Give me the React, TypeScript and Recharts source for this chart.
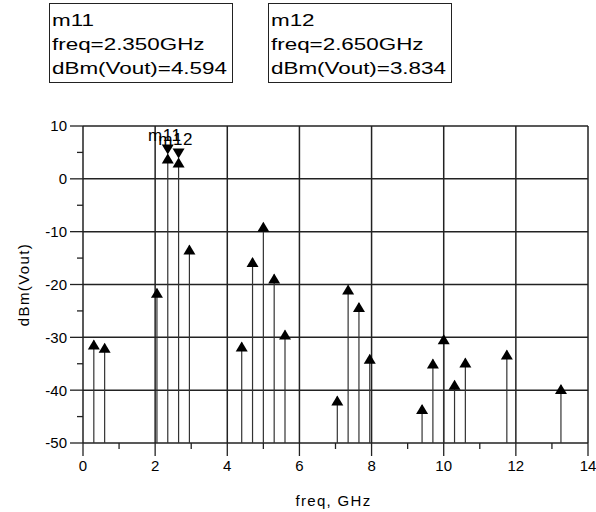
import * as React from 'react';
import { ComposedChart, XAxis, YAxis, Scatter, ReferenceLine } from 'recharts';

// spectrum lines (tip of each triangle)
const freqGHz = [0.3, 0.6, 2.05, 2.35, 2.65, 2.95, 4.4, 4.7, 5.0, 5.3, 5.6, 7.05, 7.35, 7.65, 7.95, 9.4, 9.7, 10.0, 10.3, 10.6, 11.75, 13.25];
const voutDbm = [-30.6, -31.2, -20.8, 4.594, 3.834, -12.6, -31.0, -15.0, -8.3, -18.1, -28.7, -41.2, -20.2, -23.5, -33.3, -42.8, -34.2, -29.6, -38.2, -34.0, -32.5, -39.0];

// markers
const markerNames = ['m11', 'm12'];
const markerFreq = [2.35, 2.65];
const markerDbm = [4.594, 3.834];

const xTicks = [0, 1, 2, 3, 4, 5, 6, 7, 8, 9, 10, 11, 12, 13, 14];
const yTicks = [-50, -45, -40, -35, -30, -25, -20, -15, -10, -5, 0, 5, 10];
const xMajor = [0, 2, 4, 6, 8, 10, 12, 14];
const yMajor = [-50, -40, -30, -20, -10, 0, 10];
const yFloor = -50;

const FONT = '"Liberation Sans", Arial, sans-serif';
const INK = '#222';

const points = freqGHz.map((f, i) => ({ freq: f, dbm: voutDbm[i] }));
const markers = markerNames.map((n, i) => ({ name: n, freq: markerFreq[i], dbm: markerDbm[i] }));

const XTick = (props: any) => {
    const { x, y, payload } = props;
    const major = payload.value % 2 === 0;
    const top = y - 17; // axis line position
    return (
        <g>
            <line x1={x} x2={x} y1={top} y2={top + (major ? 13 : 6)} stroke={INK} strokeWidth={1.3} />
            {major && (
                <text x={x} y={y} dy="0.72em" textAnchor="middle" fontSize={15} fontFamily={FONT} fill="#000">
                    {payload.value}
                </text>
            )}
        </g>
    );
};

const YTick = (props: any) => {
    const { x, y, payload } = props;
    const major = payload.value % 10 === 0;
    const right = x + 16;
    return (
        <g>
            <line x1={right - (major ? 13 : 6)} x2={right} y1={y} y2={y} stroke={INK} strokeWidth={1.3} />
            {major && (
                <text x={x} y={y} dy="0.36em" textAnchor="end" fontSize={15} fontFamily={FONT} fill="#000">
                    {payload.value}
                </text>
            )}
        </g>
    );
};

const UpTriangle = (props: any) => {
    const { cx, cy } = props;
    return <path d={`M${cx},${cy - 1} L${cx - 6},${cy + 9} L${cx + 6},${cy + 9} Z`} fill="#000" />;
};

const MarkerShape = (props: any) => {
    const { cx, cy, payload } = props;
    return (
        <g>
            <path d={`M${cx},${cy} L${cx - 6},${cy - 10} L${cx + 6},${cy - 10} Z`} fill="#000" />
            <text x={cx - 3} y={cy - 14} textAnchor="middle" fontSize={17} fontFamily={FONT} fill="#000" letterSpacing={0.5}>
                {payload.name}
            </text>
        </g>
    );
};

const YLabel = (props: any) => {
    const { viewBox } = props;
    const cx = viewBox.x + 24;
    const cy = viewBox.y + viewBox.height / 2;
    return (
        <text x={cx} y={cy} dy="0.36em" textAnchor="middle" transform={`rotate(-90 ${cx} ${cy})`}
            fontSize={15} fontFamily={FONT} fill="#000" letterSpacing={1.4}>
            dBm(Vout)
        </text>
    );
};

const XLabel = (props: any) => {
    const { viewBox } = props;
    const cx = viewBox.x + viewBox.width / 2;
    return (
        <text x={cx - 2} y={viewBox.y + 63} textAnchor="middle" fontSize={15} fontFamily={FONT} fill="#000" letterSpacing={1.3}>
            freq, GHz
        </text>
    );
};

const boxStyle: React.CSSProperties = {
    position: 'absolute',
    top: 3,
    height: 80,
    boxSizing: 'border-box',
    border: '1px solid ' + INK,
    background: '#fff',
    padding: '5px 0 0 2px',
    fontFamily: FONT,
    fontSize: 16,
    lineHeight: '24px',
    color: '#000',
    overflow: 'hidden',
    whiteSpace: 'nowrap',
};

const line: React.CSSProperties = { transform: 'scaleX(1.4)', transformOrigin: 'left center' };

export default () => {
    return (
        <div style={{ position: 'absolute', left: 0, top: 0, width: 596, height: 512, background: '#fff' }}>
            <div style={{ ...boxStyle, left: 49, width: 184 }}>
                <div style={line}>{markerNames[0]}</div>
                <div style={line}>freq={markerFreq[0].toFixed(3)}GHz</div>
                <div style={line}>dBm(Vout)={markerDbm[0].toFixed(3)}</div>
            </div>
            <div style={{ ...boxStyle, left: 268, width: 184 }}>
                <div style={line}>{markerNames[1]}</div>
                <div style={line}>freq={markerFreq[1].toFixed(3)}GHz</div>
                <div style={line}>dBm(Vout)={markerDbm[1].toFixed(3)}</div>
            </div>
            <div style={{ position: 'absolute', left: 0, top: 0 }}>
                <ComposedChart width={596} height={512} margin={{ top: 126, right: 8, bottom: 0, left: 0 }}>
                    <XAxis type="number" dataKey="freq" domain={[0, 14]} ticks={xTicks} interval={0}
                        height={69} tickSize={13} tickMargin={4} axisLine={false} tickLine={false}
                        tick={<XTick />} label={<XLabel />} />
                    <YAxis type="number" domain={[-50, 10]} ticks={yTicks} interval={0}
                        width={83} tickSize={13} tickMargin={3} axisLine={false} tickLine={false}
                        tick={<YTick />} label={<YLabel />} />
                    {xMajor.map((v) => (
                        <ReferenceLine key={'gx' + v} x={v} stroke={INK} strokeWidth={1.5} />
                    ))}
                    {yMajor.map((v) => (
                        <ReferenceLine key={'gy' + v} y={v} stroke={INK} strokeWidth={1.5} />
                    ))}
                    {points.map((p) => (
                        <ReferenceLine key={'s' + p.freq} stroke="#333" strokeWidth={1.2}
                            segment={[{ x: p.freq, y: yFloor }, { x: p.freq, y: p.dbm }]} />
                    ))}
                    <Scatter data={points} dataKey="dbm" shape={<UpTriangle />} isAnimationActive={false} />
                    <Scatter data={markers} dataKey="dbm" shape={<MarkerShape />} isAnimationActive={false} />
                </ComposedChart>
            </div>
        </div>
    );
};
